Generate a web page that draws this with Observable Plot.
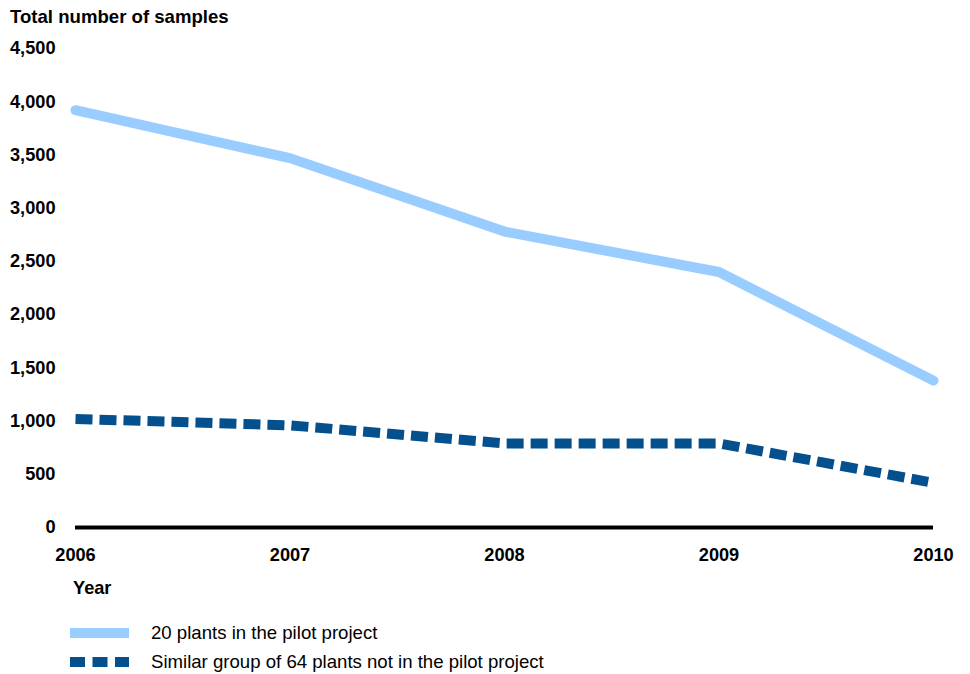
<!DOCTYPE html>
<html>
<head>
<meta charset="utf-8">
<script src="https://cdn.jsdelivr.net/npm/d3@7"></script>
<script src="https://cdn.jsdelivr.net/npm/@observablehq/plot@0.6"></script>
<style>
  html, body { margin: 0; padding: 0; background: #fff; }
  body { width: 970px; height: 674px; position: relative; overflow: hidden;
         font-family: "Liberation Sans", Arial, sans-serif; color: #000; }
  #title { position: absolute; left: 10px; top: 6px; font-size: 18.6px; font-weight: bold; }
  #chart { position: absolute; left: 0; top: 34px; }
  #xlabel { position: absolute; left: 73px; top: 578px; font-size: 18.2px; font-weight: bold; }
  .leg { position: absolute; left: 70px; height: 20px; display: flex; align-items: center; font-size: 18.6px; }
  .leg svg { margin-right: 21px; }
</style>
</head>
<body>
<div id="title">Total number of samples</div>
<div id="chart"></div>
<div id="xlabel">Year</div>
<div class="leg" style="top:623px"><svg width="60" height="12"><line x1="0" x2="59" y1="6" y2="6" stroke="#99CCFF" stroke-width="10"/></svg><span>20 plants in the pilot project</span></div>
<div class="leg" style="top:652px"><svg width="60" height="12"><line x1="0" x2="59" y1="6" y2="6" stroke="#04508F" stroke-width="10" stroke-dasharray="15,7.5"/></svg><span>Similar group of 64 plants not in the pilot project</span></div>
<script>
const years = [2006, 2007, 2008, 2009, 2010];
const pilot = [3920, 3470, 2780, 2400, 1380];
const nonPilot = [1020, 960, 790, 790, 420];
const yTicks = [0, 500, 1000, 1500, 2000, 2500, 3000, 3500, 4000, 4500];

const data = years.map((year, i) => ({year, pilot: pilot[i], nonPilot: nonPilot[i]}));

const chart = Plot.plot({
  width: 970,
  height: 533,
  marginTop: 14,
  marginBottom: 40,
  marginLeft: 75,
  marginRight: 37,
  style: {fontFamily: "'Liberation Sans', Arial, sans-serif", fontSize: "18.2px", fontWeight: "bold", color: "#000", background: "white", overflow: "visible"},
  x: {domain: [2006, 2010], ticks: years, tickFormat: d => String(d), tickSize: 0, tickPadding: 21, label: null},
  y: {domain: [0, 4500], ticks: yTicks, tickFormat: d3.format(","), tickSize: 0, tickPadding: 20, label: null},
  marks: [
    Plot.ruleY([0], {stroke: "#000", strokeWidth: 4}),
    Plot.line(data, {x: "year", y: "pilot", stroke: "#99CCFF", strokeWidth: 10}),
    Plot.line(data, {x: "year", y: "nonPilot", stroke: "#04508F", strokeWidth: 10, strokeDasharray: "17,7", strokeLinecap: "butt"})
  ]
});
document.getElementById("chart").appendChild(chart);
</script>
</body>
</html>
